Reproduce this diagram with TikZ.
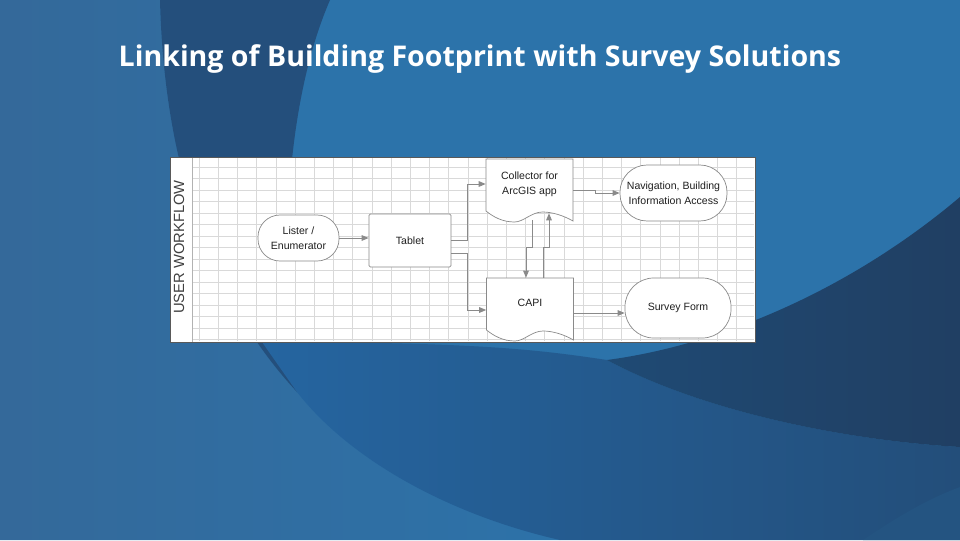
\documentclass[tikz,border=0pt]{standalone}
\usepackage{fontspec}
\setmainfont{Open Sans}
\newfontfamily\diagfont{Liberation Sans}
\usepackage{tikz}
\usetikzlibrary{arrows.meta,positioning,calc}

\definecolor{bgmid}{HTML}{2C73AA}
\definecolor{bgleft}{HTML}{34699A}
\definecolor{bgband}{HTML}{244F7C}
\definecolor{bgdisc}{HTML}{2565A0}
\definecolor{bgdeep}{HTML}{234E7A}
\definecolor{bgdark}{HTML}{1F4A74}
\definecolor{bgdarker}{HTML}{203F63}
\definecolor{edgegray}{HTML}{8A8A8A}

% outline of a document box with a wavy bottom
\newcommand{\wavedoc}[1]{%
  \draw[docline,shift={(#1)}] (-43.5,-25) -- (43.5,-25) -- (43.5,37)
    .. controls (33,31) and (22,28) .. (13,28)
    .. controls (2,28) and (-6,38) .. (-15,38)
    .. controls (-27,38) and (-36,33) .. (-43.5,27) -- cycle;}

\begin{document}
\begin{tikzpicture}[x=0.025cm,y=-0.025cm,
    terminal/.style={draw=edgegray,fill=white,line width=0.5pt,inner sep=1pt,align=center},
    box/.style={draw=edgegray,fill=white,line width=0.5pt,rounded corners=1pt,
      minimum width=2.05cm,minimum height=1.325cm},
    doc/.style={minimum width=2.175cm,minimum height=1.25cm,inner sep=1pt,align=center},
    docline/.style={draw=edgegray,fill=white,line width=0.5pt},
    flow/.style={draw=edgegray,line width=0.6pt,-{Triangle[length=5pt,width=4pt]}},
    gridline/.style={draw=gray!30,line width=0.3pt},
    label/.style={font=\diagfont\fontsize{7.5}{10.5}\selectfont,text=black!88},
    >=Latex]

  % background
  \useasboundingbox (0,0) rectangle (960,540);
  \fill[bgmid] (0,0) rectangle (960,540);
  \shade[left color=bgleft,right color=bgmid!90!bgleft]
    (0,0) -- (160,0) .. controls (165,200) and (230,320) .. (297,392)
    .. controls (350,460) and (450,515) .. (560,540) -- (0,540) -- cycle;
  \fill[bgband] (160,0) .. controls (165,200) and (230,320) .. (297,392)
    .. controls (282,300) and (278,120) .. (330,0) -- cycle;
  \shade[left color=bgdisc,right color=bgdeep]
    (297,392) .. controls (350,460) and (450,515) .. (560,540) -- (960,540)
    -- (960,447) .. controls (840,440) and (700,410) .. (607,360)
    .. controls (540,350) and (480,342) .. (262,342) -- cycle;
  \shade[left color=bgdark,right color=bgdarker]
    (607,360) .. controls (720,345) and (850,290) .. (960,197) -- (960,447)
    .. controls (840,440) and (700,410) .. (607,360) -- cycle;
  \fill[bgdeep!85!bgmid] (863,540) .. controls (900,515) and (930,498) .. (960,487) -- (960,540) -- cycle;

  \node[font=\fontsize{20.3}{24}\selectfont\bfseries,text=white] (title) at (480,59)
    {Linking of Building Footprint with Survey Solutions};

  % panel with grid
  \fill[white] (170,157) rectangle (755,342);
  \foreach \gx in {199,218.2,...,754} {
    \draw[gridline] (\gx,158) -- (\gx,341);
  }
  \foreach \gy in {167,178.5,...,341} {
    \draw[gridline] (192,\gy) -- (754,\gy);
  }
  \draw[gray!60,line width=0.4pt] (192,157) -- (192,342);
  \draw[gray!70!black,line width=0.6pt] (170,157) rectangle (755,342);
  \node[font=\diagfont\fontsize{10.5}{12}\selectfont,text=black!75,rotate=90] (lane) at (179,247) {USER WORKFLOW};

  % document shapes
  \coordinate (collectorpos) at (529.5,184);
  \coordinate (capipos) at (530,303);
  \wavedoc{collectorpos}
  \begin{scope}
    \clip (170,157) rectangle (755,342);
    \wavedoc{capipos}
  \end{scope}

  % nodes
  \node[terminal,label,rounded corners=0.55cm,minimum width=2.025cm,minimum height=1.15cm] (lister) at (298.5,238) {Lister /\\Enumerator};
  \node[box,label] (tablet) at (410,240.5) {Tablet};
  \node[doc,label] (collector) at (collectorpos) {Collector for\\ArcGIS app};
  \node[terminal,label,rounded corners=0.68cm,minimum width=2.675cm,minimum height=1.4cm] (nav) at (673.5,193) {Navigation, Building\\Information Access};
  \node[doc,label] (capi) at (capipos) {CAPI};
  \node[terminal,label,rounded corners=0.72cm,minimum width=2.65cm,minimum height=1.5cm] (survey) at (678,308) {Survey Form};

  % connectors
  \draw[flow] (lister.east) -- (tablet.west |- lister.east);
  \draw[flow] (tablet.east) -- ++(16,0) |- (collector.west);
  \draw[flow] ($(tablet.east)+(0,12.5)$) -- ++(16,0) |- ($(capi.west)+(0,7)$);
  \draw[flow] ($(collector.east)+(0,6)$) -- ++(22,0) |- (nav.west);
  \draw[flow] ($(collector.south)+(2.5,11)$) -- ++(0,27) -| ($(capi.north)+(-4,0)$);
  \draw[flow] ($(capi.north)+(13,0)$) -- ++(0,-30) -| ($(collector.south)+(19.5,4)$);
  \draw[flow] ($(capi.east)+(0,10)$) -- ($(survey.west)+(0,5)$);
\end{tikzpicture}
\end{document}
